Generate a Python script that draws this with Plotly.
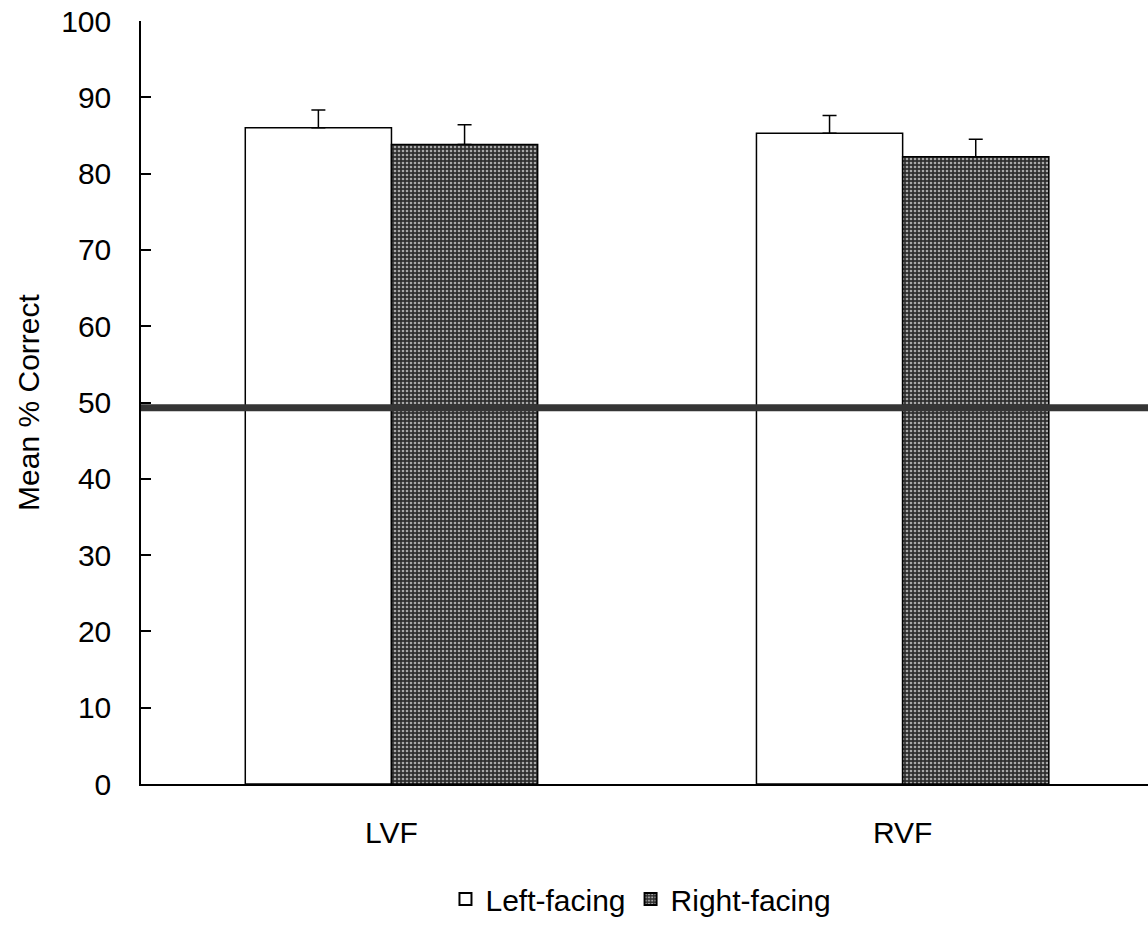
import plotly.graph_objects as go

categories = ["LVF", "RVF"]
left_facing = [86.0, 85.3]
right_facing = [83.8, 82.2]
left_err = [2.35, 2.3]
right_err = [2.6, 2.3]
chance_level = 49.3
y_ticks = [0, 10, 20, 30, 40, 50, 60, 70, 80, 90, 100]

FONT = "Liberation Sans, Arial, sans-serif"

fig = go.Figure()
fig.add_trace(go.Bar(
    name="Left-facing", x=categories, y=left_facing,
    marker=dict(color="white", line=dict(color="black", width=1.5)),
    error_y=dict(type="data", array=left_err, arrayminus=[0, 0], symmetric=False,
                 color="black", thickness=1.5, width=7),
))
fig.add_trace(go.Bar(
    name="Right-facing", x=categories, y=right_facing,
    marker=dict(color="#505050", line=dict(color="black", width=1.5),
                pattern=dict(shape=".", bgcolor="#2e2e2e", fgcolor="#a8a8a8",
                             size=4, solidity=0.35, fillmode="replace")),
    error_y=dict(type="data", array=right_err, arrayminus=[0, 0], symmetric=False,
                 color="black", thickness=1.5, width=7),
))

fig.add_shape(type="line", xref="x domain", yref="y", x0=0, x1=1,
              y0=chance_level, y1=chance_level,
              line=dict(color="#353535", width=7), layer="above")

fig.update_layout(
    width=1148, height=925,
    margin=dict(l=141, r=0, t=21, b=140),
    paper_bgcolor="white", plot_bgcolor="white",
    barmode="group", bargap=0.428, bargroupgap=0,
    font=dict(family=FONT, size=30, color="black"),
    showlegend=True,
    legend=dict(orientation="h", x=0.4965, xanchor="center", y=-0.15, yanchor="middle",
                font=dict(size=30), itemsizing="constant", tracegroupgap=0),
    xaxis=dict(range=[-0.49, 1.48], showline=True, linecolor="black", linewidth=1.5,
               ticks="", showgrid=False, zeroline=False, ticklabelstandoff=21,
               tickfont=dict(size=30)),
    yaxis=dict(range=[0, 100], tickvals=y_ticks, showline=True, linecolor="black",
               linewidth=1.5, ticks="inside", ticklen=10, tickwidth=1.5, tickcolor="black",
               showgrid=False, zeroline=False, ticklabelstandoff=22,
               tickfont=dict(size=30),
               title=dict(text="Mean % Correct", font=dict(size=30), standoff=13)),
)

fig.write_html("out.html")
